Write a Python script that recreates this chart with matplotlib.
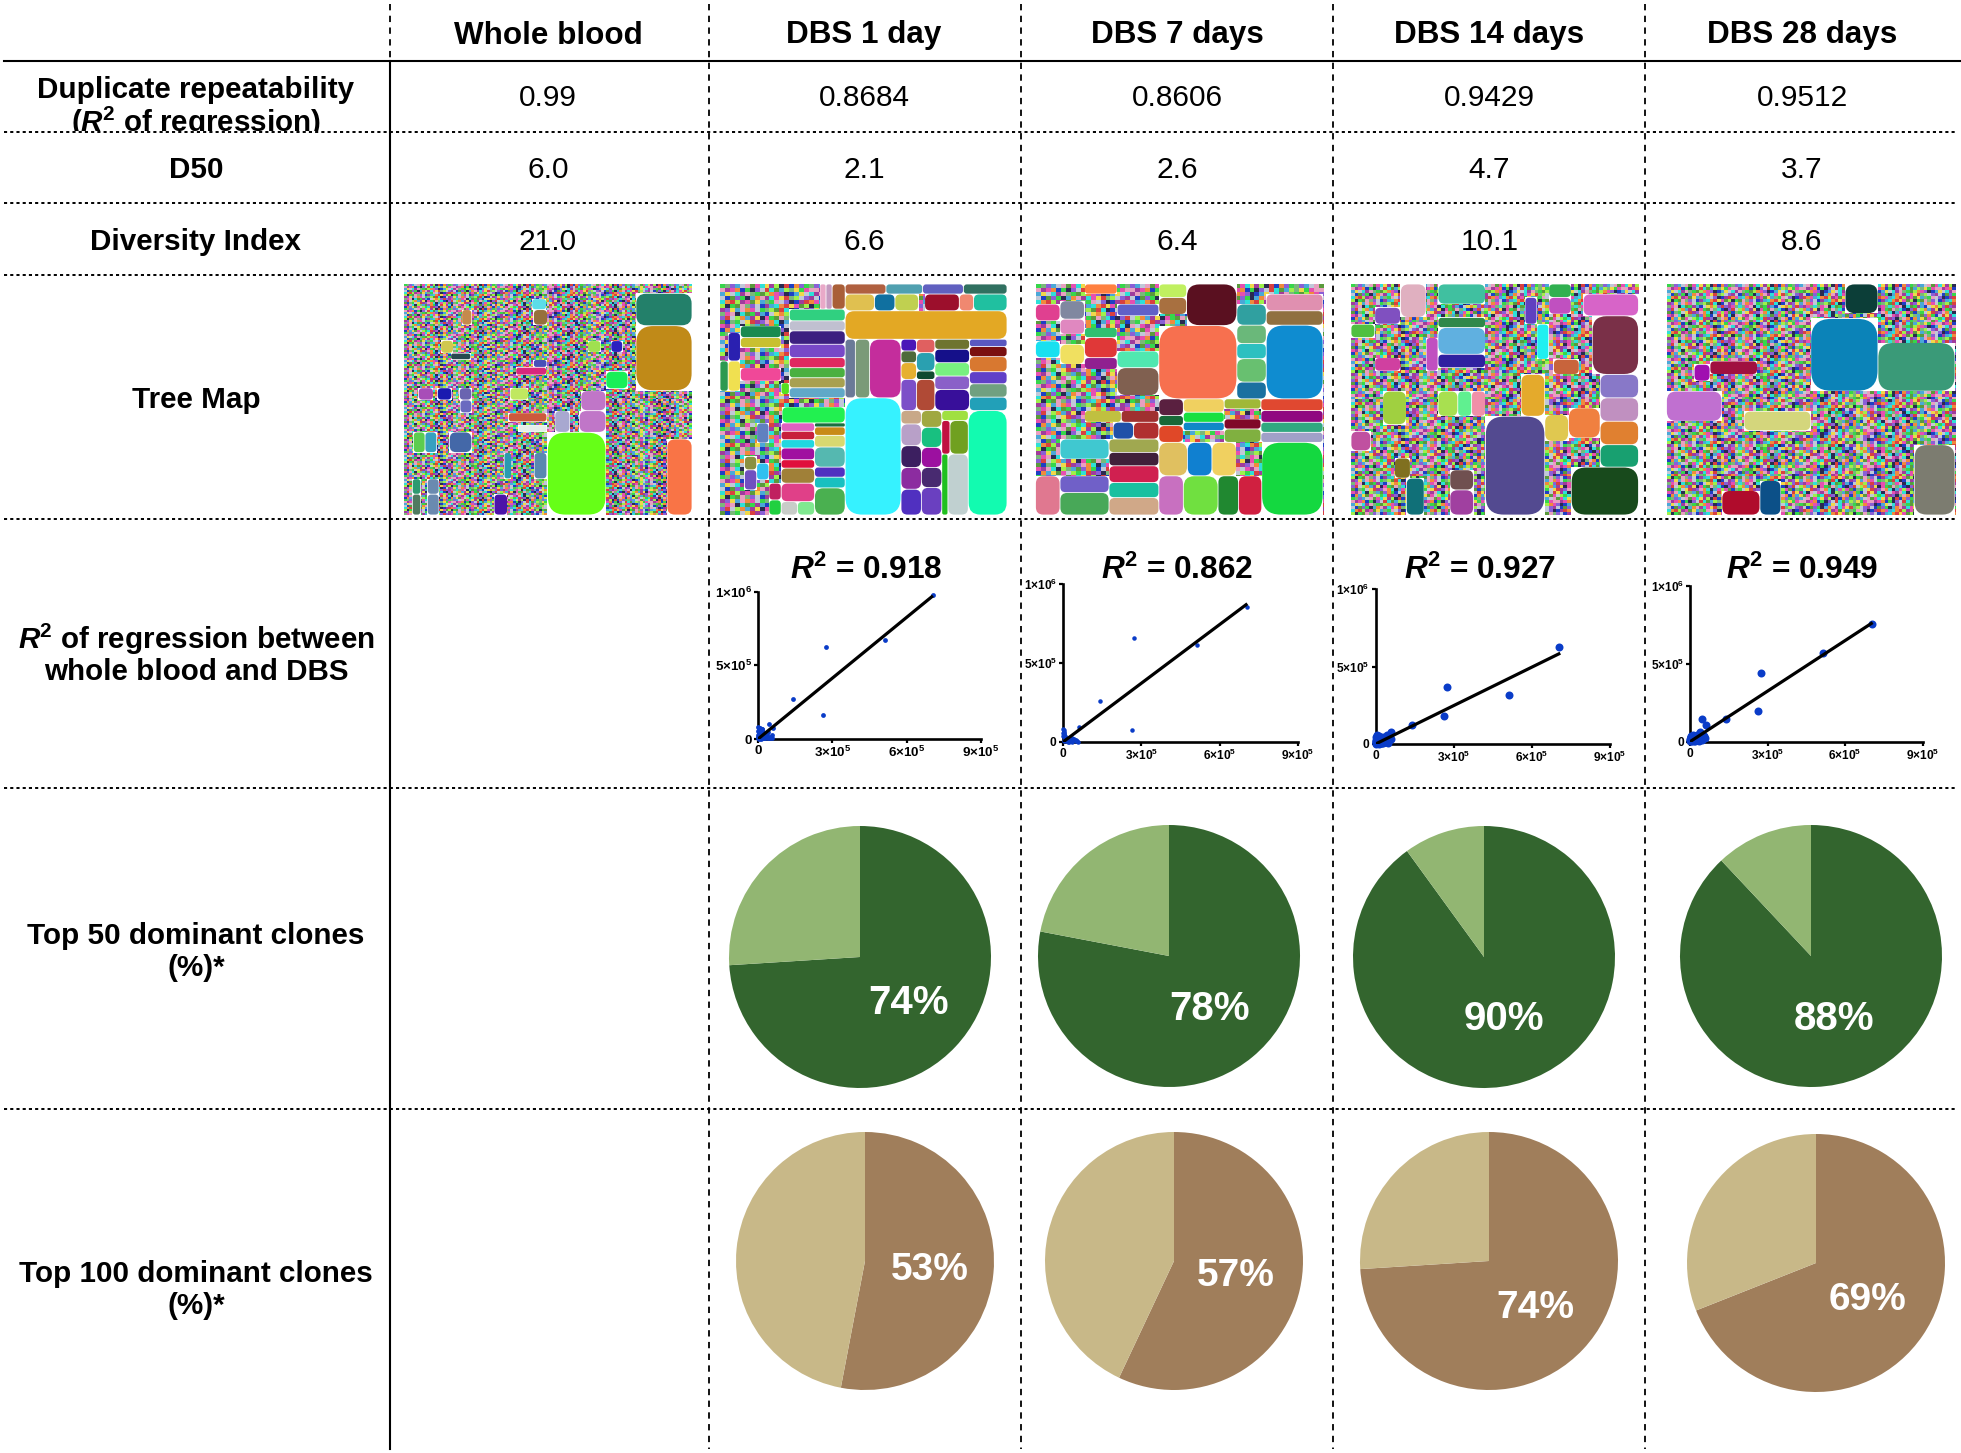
import numpy as np
import matplotlib
matplotlib.use('Agg')
import matplotlib.pyplot as plt
from matplotlib.patches import FancyBboxPatch, Rectangle

plt.rcParams['font.family'] = ['Liberation Sans', 'DejaVu Sans']
plt.rcParams['mathtext.fontset'] = 'custom'
plt.rcParams['mathtext.rm'] = 'Liberation Sans'
plt.rcParams['mathtext.it'] = 'Liberation Sans:italic'
plt.rcParams['mathtext.bf'] = 'Liberation Sans:bold'
plt.rcParams['mathtext.bfit'] = 'Liberation Sans:italic:bold'

W, H = 1961, 1453

# ── Table text ───────────────────────────────────────────────────────────────
columns = ['Whole blood', 'DBS 1 day', 'DBS 7 days', 'DBS 14 days', 'DBS 28 days']
repeatability = ['0.99', '0.8684', '0.8606', '0.9429', '0.9512']
d50 = ['6.0', '2.1', '2.6', '4.7', '3.7']
diversity = ['21.0', '6.6', '6.4', '10.1', '8.6']
r2_labels = ['0.918', '0.862', '0.927', '0.949']

# ── Pies ─────────────────────────────────────────────────────────────────────
top50 = [74, 78, 90, 88]
top100 = [53, 57, 74, 69]

# ── Scatter: whole blood count (x) against DBS count (y), one y list per panel ─
wb_x = [7.06e5, 5.14e5, 2.73e5, 2.64e5, 1.40e5, 0.45e5, 0.60e5, 0.55e5, 0.50e5,
        0.42e5, 0.38e5, 0.33e5, 0.28e5, 0.22e5, 0.17e5, 0.13e5, 0.10e5, 0.07e5,
        0.05e5, 0.03e5, 0.02e5, 0.01e5, 0.005e5,
        0.04e5, 0.08e5, 0.12e5, 0.16e5, 0.20e5, 0.25e5, 0.30e5, 0.35e5, 0.40e5,
        0.48e5, 0.58e5, 0.03e5, 0.07e5, 0.11e5, 0.15e5, 0.19e5, 0.24e5, 0.02e5,
        0.06e5, 0.09e5, 0.14e5, 0.01e5, 0.05e5]
d1_y = [9.77e5, 6.72e5, 6.27e5, 1.65e5, 2.71e5, 1.02e5, 0.75e5, 0.30e5, 0.15e5,
        0.45e5, 0.12e5, 0.28e5, 0.20e5, 0.38e5, 0.65e5, 0.25e5, 0.55e5, 0.42e5,
        0.72e5, 0.18e5, 0.80e5, 0.30e5, 0.10e5,
        0.60e5, 0.35e5, 0.48e5, 0.70e5, 0.15e5, 0.35e5, 0.10e5, 0.25e5, 0.08e5,
        0.05e5, 0.08e5, 0.40e5, 0.65e5, 0.20e5, 0.10e5, 0.50e5, 0.05e5, 0.15e5,
        0.05e5, 0.72e5, 0.03e5, 0.55e5, 0.02e5]
d7_y = [8.52e5, 6.16e5, 6.58e5, 0.74e5, 2.57e5, 0.12e5, 0.93e5, 0.06e5, 0.10e5,
        0.20e5, 0.15e5, 0.25e5, 0.12e5, 0.10e5, 0.08e5, 0.14e5, 0.22e5, 0.30e5,
        0.45e5, 0.60e5, 0.75e5, 0.85e5, 0.40e5,
        0.52e5, 0.25e5, 0.18e5, 0.05e5, 0.06e5, 0.04e5, 0.08e5, 0.03e5, 0.18e5,
        0.05e5, 0.02e5, 0.35e5, 0.38e5, 0.12e5, 0.20e5, 0.02e5, 0.03e5, 0.66e5,
        0.15e5, 0.30e5, 0.04e5, 0.55e5, 0.08e5]
d14_y = [6.24e5, 3.18e5, 3.67e5, 1.82e5, 1.22e5, 0.40e5, 0.75e5, 0.55e5, 0.28e5,
         0.60e5, 0.12e5, 0.30e5, 0.45e5, 0.18e5, 0.35e5, 0.50e5, 0.15e5, 0.40e5,
         0.55e5, 0.25e5, 0.42e5, 0.15e5, 0.08e5,
         0.30e5, 0.20e5, 0.10e5, 0.38e5, 0.08e5, 0.22e5, 0.05e5, 0.18e5, 0.10e5,
         0.08e5, 0.35e5, 0.10e5, 0.28e5, 0.30e5, 0.05e5, 0.12e5, 0.06e5, 0.03e5,
         0.12e5, 0.05e5, 0.02e5, 0.20e5, 0.05e5]
d28_y = [7.54e5, 5.67e5, 4.39e5, 1.95e5, 1.46e5, 1.43e5, 1.05e5, 0.35e5, 0.45e5,
         0.30e5, 0.65e5, 0.15e5, 0.40e5, 0.10e5, 0.28e5, 0.18e5, 0.42e5, 0.25e5,
         0.12e5, 0.35e5, 0.20e5, 0.08e5, 0.15e5,
         0.28e5, 0.12e5, 0.38e5, 0.05e5, 0.22e5, 0.08e5, 0.18e5, 0.05e5, 0.30e5,
         0.12e5, 0.22e5, 0.05e5, 0.10e5, 0.20e5, 0.32e5, 0.04e5, 0.15e5, 0.28e5,
         0.03e5, 0.12e5, 0.08e5, 0.02e5, 0.30e5]
scatter_y = [d1_y, d7_y, d14_y, d28_y]
fit_end_y = [9.72e5, 8.75e5, 5.86e5, 7.65e5]
fit_end_x = [7.06e5, 7.06e5, 7.09e5, 7.07e5]

# ── Tree maps: nested shares. None = the area of very small clones ───────────
# The thousands of tiniest clones can't be read one by one, so those areas are
# filled with this typed colour texture instead of real values.
small_palette = ['#37d64b', '#e64fb0', '#2ee0d8', '#8a5fd6', '#f0d84a', '#1e3fc4',
                 '#9ef04a', '#e8a0c0', '#d94040', '#4aa8d8', '#7ab87a', '#f08a3c',
                 '#c0c8d8', '#2a2a50', '#a03c9c', '#5a9a3c']
small_rows = ['0a39c7f124e6d85b3', '7e1b50d3c82f96a4017', '94c2e7a0f6b13d5',
              'c5f30d9b7e2148a6c3e', '2b86e1f49a07c3d5e8b19', '6d0f7a3c5e92b841f',
              'e3497b1c0a6f82d5c', 'a17d2f0e95c4b6383e1a2', '38c6b9e4d10f7a25d',
              'f5a0c48e37b2d9161', '1e72d6a9f3b05c84e2d7c', '5b94f1c6028e3da7b']


def h(*kids):
    return ('h', kids)


def v(*kids):
    return ('v', kids)


tree_wb = h(
    (430, v(
        (46, None),
        (34, h((383, None), (44, '#5cdde8'), (3, None))),
        (48, h((173, None), (30, '#c58a4c'), (185, None), (42, '#96703c'))),
        (48, None),
        (40, h((110, None), (38, '#d0c850'), (282, None))),
        (20, h((140, None), (60, '#27494f'), (230, None))),
        (24, h((388, None), (40, '#4850b8'), (2, None))),
        (24, h((335, None), (92, '#d8287c'), (3, None))),
        (40, None),
        (38, h((43, None), (45, '#a84db8'), (12, None), (43, '#1a1ab0'), (23, None),
               (37, '#6a64b0'), (115, None), (55, '#c0e860'), (57, None))),
        (40, h((168, None), (35, '#6a6ac0'), (227, None))),
        (28, h((313, None), (115, '#cc5a3c'), (2, None))),
        (10, None),
        (22, h((343, None), (85, '#e6eeea'), (2, None))),
        (64, h((28, None), (35, '#5ccc50'), (35, '#36a0c0'), (38, None), (67, '#4468a8'),
               (227, None))),
        (82, h((300, None), (22, '#2a9ab0'), (68, None), (38, '#5a88b0'), (2, None))),
        (48, h((25, None), (25, '#2e9a70'), (20, None), (35, '#6a8ab0'), (325, None))),
        (65, h((25, None), (25, '#507a60'), (20, None), (35, '#6a8ab0'), (165, None),
               (40, '#4c14a8'), (120, None))),
    )),
    (433, v(
        (320, h(
            (265, v((170, None), (35, h((120, None), (40, '#a0e050'), (30, None), (35, '#2c20c0'),
                                        (40, None))), (57, None),
                    (52, h((175, None), (66, '#18ef58'), (24, None))), (6, None))),
            (168, v((28, None), (97, '#23806a'), (195, '#c08a18'))),
        )),
        (373, h(
            (175, v((60, h((100, None), (75, '#c076c8'))),
                    (65, h((22, None), (45, '#a8a8d0'), (28, None), (80, '#c076c8'))),
                    (248, '#66ff17'))),
            (258, v((145, None), (228, h((183, None), (75, '#f97446'))))),
        )),
    )),
)

tree_d1 = h(
    (307, v(
        (340, v(
            (75, h((245, None), (15, '#e9a9c8'), (15, '#c49ac0'), (32, '#a95f38'))),
            (265, h(
                (20, v((155, None), (90, '#2d9a50'), (20, None))),
                (30, v((70, None), (85, '#2a20b0'), (90, '#f0e050'), (20, None))),
                (100, v((50, None), (35, '#1a8a50'), (30, '#c8c030'), (60, None), (40, '#f04898'),
                        (50, None))),
                (20, v((220, None), (35, '#55e020'), (10, None))),
                (137, v((35, '#30d080'), (30, '#c0c0d0'), (40, '#3c2080'), (40, '#7848c8'),
                        (30, '#e02860'), (30, '#4ab040'), (30, '#a8a050'), (30, '#60a8c8'))),
            )),
        )),
        (350, v(
            (27, None),
            (48, h((152, None), (155, '#22f050'))),
            (275, h(
                (60, None),
                (30, v((100, None), (40, '#8a9040'), (60, '#7050c0'), (75, None))),
                (30, v((60, '#6080c0'), (60, None), (50, '#30c0f0'), (105, None))),
                (30, v((180, None), (50, '#c02060'), (45, '#20d040'))),
                (82, v((25, '#e060c0'), (25, '#c8203c'), (25, '#20d8e0'), (35, '#a010a0'),
                       (25, '#e0103c'), (45, '#a08038'), (55, '#e04088'),
                       (40, h((40, '#c8ccc8'), (42, '#80e890'))))),
                (75, v((12, '#1a7040'), (25, '#c88a18'), (35, '#d8d870'), (60, '#55b8b0'),
                       (30, '#5030c0'), (32, '#18c0c0'), (81, '#4ab050'))),
            )),
        )),
    )),
    (397, v(
        (80, v((30, h((100, '#b06040'), (90, '#50a0b0'), (100, '#6060c0'), (107, '#307060'))),
               (50, h((72, '#e0c050'), (50, '#1070a0'), (58, '#c0d050'), (15, None),
                      (85, '#9c0f2c'), (35, '#f08870'), (82, '#20c0a0'))))),
        (85, '#e3a824'),
        (525, h(
            (137, v((175, h((25, '#6a7a98'), (35, '#7a9a78'), (77, '#c42d9c'))), (350, '#36f2ff'))),
            (260, v(
                (213, h(
                    (38, v((35, '#4a17b8'), (35, '#4e6a3a'), (50, '#e6b030'), (93, '#7c4fc8'))),
                    (45, v((40, '#e06060'), (55, '#2aa0b0'), (25, '#104a30'), (93, '#b04a36'))),
                    (85, v((30, '#6e7430'), (40, '#15108a'), (40, '#78f080'), (40, '#8a60c8'),
                           (63, '#380f9a'))),
                    (92, v((22, '#5a58c0'), (30, '#7a1010'), (45, '#d87830'), (36, '#6040c8'),
                           (40, '#70a080'), (40, '#22a0b8'))),
                )),
                (312, h(
                    (165, h(
                        (50, v((40, '#c8a888'), (65, '#b8a0c8'), (65, '#3c1f60'),
                               (65, '#8c2ca0'), (77, '#5030c0'))),
                        (50, v((50, '#a0a840'), (60, '#18c080'), (60, '#9c10a0'),
                               (60, '#482a70'), (82, '#6a40c0'))),
                        (65, v((30, '#a0e040'), (100, h((20, '#c01040'), (45, '#70a020'))),
                               (182, h((15, '#20c020'), (50, '#c0d0d0'))))),
                    )),
                    (95, '#12fbb0'),
                )),
            )),
        )),
    )),
)

tree_d7 = h(
    (302, v(
        (333, h(
            (60, v((60, None), (50, '#e04090'), (60, None), (50, '#18e0f0'), (113, None))),
            (60, v((50, None), (55, '#8088a0'), (45, '#e088c0'), (30, None), (60, '#f0e060'),
                   (93, None))),
            (80, v((30, '#ff8040'), (100, None), (30, '#30c070'), (60, '#e03838'), (35, '#902090'),
                   (78, None))),
            (102, v((60, None), (35, '#6060c8'), (105, None), (50, '#50e8b0'),
                    (83, '#806050'))),
        )),
        (357, v(
            (45, None),
            (35, h((120, None), (90, '#c0c040'), (92, '#a03030'))),
            (50, h((60, None), (130, None), (50, '#2050a8'), (62, '#b03030'))),
            (227, h(
                (60, v((110, None), (117, '#e07890'))),
                (120, v((60, '#40c8d0'), (50, None), (50, '#7060c8'), (67, '#48a858'))),
                (122, v((40, '#a0a850'), (40, '#40203a'), (50, '#d02050'), (45, '#18c0a0'),
                        (52, '#d0a888'))),
            )),
        )),
    )),
    (402, v(
        (343, h(
            (191, v((123, h((68, v((40, '#c0f060'), (50, '#a87040'), (33, None))),
                            (123, '#5a1020'))), (217, '#f7704f'))),
            (72, v((60, None), (63, '#30a0a0'), (55, '#6ab87a'), (45, '#2cc0c0'),
                   (70, '#68c070'), (50, '#1a70a0'))),
            (139, v((30, None), (50, '#e090b0'), (43, '#907040'), (220, '#0f8cd0'))),
        )),
        (347, v(
            (130, h(
                (60, v((50, '#5a2040'), (30, '#186838'), (50, '#e04828'))),
                (100, v((40, '#f0d060'), (30, '#18e040'), (25, '#1088c8'), (35, None))),
                (90, v((30, '#a0b838'), (30, None), (30, '#800828'), (40, '#80b040'))),
                (152, v((35, '#e04830'), (35, '#900880'), (30, '#30a880'), (30, '#a0a0c8'))),
            )),
            (217, h(
                (252, v(
                    (100, h((70, '#e0c060'), (60, '#1080d0'), (60, '#f0d060'), (62, None))),
                    (117, h((60, '#c870c0'), (85, '#70e040'), (50, '#208830'), (57, '#d02040'))),
                )),
                (150, '#14d840'),
            )),
        )),
    )),
)

tree_d14 = h(
    (340, v(
        (320, h(
            (60, v((120, None), (40, '#50c040'), (160, None))),
            (65, v((70, None), (50, '#8050c0'), (100, None), (40, '#d040a0'), (60, None))),
            (65, v((100, '#e0b0c0'), (220, None))),
            (30, v((160, None), (100, '#c050c0'), (60, None))),
            (120, v((60, '#40c0a0'), (40, None), (30, '#30884a'), (80, '#60b0e0'), (40, '#3020a0'),
                    (70, None))),
        )),
        (370, h(
            (50, v((120, None), (58, '#c050a0'), (192, None))),
            (170, v((100, h((30, None), (60, '#a0d040'), (80, None))), (100, None),
                    (60, h((60, None), (40, '#807020'), (70, None))),
                    (110, h((90, None), (45, '#107078'), (35, None))))),
            (120, v(
                (75, h((50, '#a8e050'), (35, '#60f090'), (35, '#f090a8'))),
                (160, None),
                (60, h((30, None), (60, '#705050'), (30, None))),
                (75, h((30, None), (60, '#a040a0'), (30, None))),
            )),
        )),
    )),
    (387, v(
        (270, h(
            (247, v((225, h((100, None), (30, v((40, None), (80, '#6040c0'), (105, None))),
                            (30, v((120, None), (105, '#20f0f0'))),
                            (57, v((40, '#30b050'), (50, '#c050c0'), (135, None))), (30, None))),
                    (45, h((172, None), (65, '#c8643c'), (10, None))))),
            (140, v((30, None), (65, '#d764c8'), (175, h((23, None), (117, '#7a3048'))))),
        )),
        (420, h(
            (150, v((125, h((90, None), (60, '#e4aa2c'))), (295, '#534a90'))),
            (237, v(
                (277, h(
                    (60, v((120, None), (80, '#e0c850'), (77, None))),
                    (80, v((100, None), (90, '#f08040'), (87, None))),
                    (97, v((70, '#8878c8'), (70, '#c090c0'), (70, '#e08030'), (67, '#18a070'))),
                )),
                (143, h((67, None), (170, '#184a1c'))),
            )),
        )),
    )),
)

tree_d28 = v(
    (320, h(
        (365, h((70, None), (40, v((240, None), (50, '#a010b0'), (30, None))),
                (120, v((230, None), (40, '#a01040'), (50, None))), (135, None))),
        (170, v((88, h((87, None), (83, '#0c3e38'))), (15, None), (217, '#0b83b8'))),
        (195, v((175, None), (145, '#3a9a78'))),
    )),
    (370, h(
        (140, v((90, '#c070d0'), (280, None))),
        (589, v(
            (160, h(
                (225, v((60, None), (58, h((55, None), (166, '#d4d67c'))), (42, None))),
                (365, None),
            )),
            (210, h(
                (486, v(
                    (107, None),
                    (103, h(
                        (96, v((30, None), (73, '#b00c2c'))),
                        (53, '#0c5088'),
                        (337, None),
                    )),
                )),
                (103, '#7c7c70'),
            )),
        )),
    )),
)

trees = [tree_wb, tree_d1, tree_d7, tree_d14, tree_d28]
small_cell = [(2.6, 2.0), (5.0, 4.0), (5.0, 4.0), (3.6, 3.0), (3.6, 3.0)]

# pixel boxes of the table
panel_boxes = [(404, 284, 692, 515), (720, 284, 1007, 515), (1035.5, 284, 1323, 515),
               (1351, 284, 1638.5, 515), (1666.5, 284, 1955, 515)]
axes_boxes = [(758, 591.7, 981, 739), (1063, 584, 1298, 742),
              (1375.6, 589, 1610, 744), (1690, 586, 1922.5, 741.7)]
marker_px = [4.8, 4.5, 8, 8]
top50_centers = [(860, 957), (1169, 956), (1484, 957), (1811, 956)]
top100_centers = [(865, 1261), (1174, 1261), (1489, 1261), (1816, 1263)]
top50_text = [(909, 1001), (1210, 1006), (1504, 1016), (1834, 1016)]
top100_text = [(930, 1267), (1236, 1274), (1535, 1305), (1867, 1297)]
col_x = [548, 864, 1177, 1489.5, 1802]
r2_x = [866, 1177.6, 1480, 1802.6]
TEXT_DY = 2.5


def add_px_axes(fig, x0, y0, x1, y1):
    return fig.add_axes([x0 / W, 1 - y1 / H, (x1 - x0) / W, (y1 - y0) / H])


def put(fig, x, y, s, size=21.3, weight='normal', color='black', **kw):
    return fig.text(x / W, 1 - (y + TEXT_DY) / H, s, fontsize=size, fontweight=weight, color=color,
                    ha='center', va='center', **kw)


def collect_clones(node, x0, y0, x1, y1, out):
    if node is None:
        return
    if isinstance(node, str):
        out.append((x0, y0, x1, y1, node))
        return
    kind, kids = node
    total = sum(k[0] for k in kids)
    pos = x0 if kind == 'h' else y0
    for share, child in kids:
        if kind == 'h':
            step = (x1 - x0) * share / total
            collect_clones(child, pos, y0, pos + step, y1, out)
        else:
            step = (y1 - y0) * share / total
            collect_clones(child, x0, pos, x1, pos + step, out)
        pos += step


def small_clone_image(w_px, h_px, cell):
    nx, ny = int(w_px / cell[0]) + 1, int(h_px / cell[1]) + 1
    colors = matplotlib.colors.to_rgba_array(small_palette)[:, :3]
    img = np.zeros((ny, nx, 3))
    for j in range(ny):
        row = small_rows[j % len(small_rows)]
        for i in range(nx):
            img[j, i] = colors[int(row[i % len(row)], 16)]
    return img


def draw_treemap(ax, tree, box, cell):
    x0, y0, x1, y1 = box
    ax.imshow(small_clone_image(x1 - x0, y1 - y0, cell), extent=(x0, x1, y1, y0),
              aspect='auto', interpolation='nearest', zorder=1)
    clones = []
    collect_clones(tree, x0, y0, x1, y1, clones)
    for cx0, cy0, cx1, cy1, color in clones:
        w, ht = cx1 - cx0, cy1 - cy0
        ax.add_patch(Rectangle((cx0, cy0), w, ht, fc='white', ec='none', zorder=2))
        rad = min(0.3 * min(w, ht), 20)
        ax.add_patch(FancyBboxPatch((cx0 + 0.4, cy0 + 0.4), w - 0.8, ht - 0.8,
                                    boxstyle=f'round,pad=0,rounding_size={rad}',
                                    fc=color, ec='none', zorder=3))


def draw_scatter(fig, box, ys, end_x, end_y, marker, label_size):
    ax = add_px_axes(fig, *box)
    ax.patch.set_alpha(0)
    ax.set_xlim(0, 9e5)
    ax.set_ylim(0, 1e6)
    ax.scatter(wb_x, ys, s=(marker * 0.72) ** 2, color='#0a3cc8', lw=0, zorder=3, clip_on=False)
    ax.plot([0, end_x], [0, end_y], color='black', lw=2.3, zorder=4, solid_capstyle='butt')
    for side in ('top', 'right'):
        ax.spines[side].set_visible(False)
    for side in ('left', 'bottom'):
        ax.spines[side].set_linewidth(1.9)
    ax.set_xticks([0, 3e5, 6e5, 9e5])
    ax.set_xticklabels(['0', r'3×10$^{\mathbf{5}}$', r'6×10$^{\mathbf{5}}$', r'9×10$^{\mathbf{5}}$'],
                       fontweight='bold', fontsize=label_size)
    ax.set_yticks([0, 5e5, 1e6])
    ax.set_yticklabels(['0', r'5×10$^{\mathbf{5}}$', r'1×10$^{\mathbf{6}}$'], fontweight='bold',
                       fontsize=label_size)
    ax.tick_params(length=3, width=1.6, pad=1.5)


def draw_pie(fig, center, radius, pct, colors):
    cx, cy = center
    ax = add_px_axes(fig, cx - radius, cy - radius, cx + radius, cy + radius)
    ax.pie([pct, 100 - pct], colors=colors, startangle=90, counterclock=False, radius=1,
           wedgeprops={'linewidth': 0})
    ax.set_xlim(-1, 1)
    ax.set_ylim(-1, 1)


fig = plt.figure(figsize=(W / 100, H / 100), dpi=100, facecolor='white')
base = fig.add_axes([0, 0, 1, 1])

# ── Tree maps ────────────────────────────────────────────────────────────────
for tree, box, cell in zip(trees, panel_boxes, small_cell):
    draw_treemap(base, tree, box, cell)
base.set_xlim(0, W)
base.set_ylim(H, 0)
base.axis('off')

# ── Rules ────────────────────────────────────────────────────────────────────
base.plot([4, 1961], [61, 61], color='black', lw=1.5, zorder=5)
for y in (132, 203, 275, 519, 788, 1109):
    base.plot([4, 1955], [y, y], color='black', lw=1.4, dashes=(1.6, 1.6), zorder=5)
base.plot([390, 390], [4, 61], color='black', lw=1.3, dashes=(3.5, 3), zorder=5)
base.plot([390, 390], [61, 1449], color='black', lw=1.5, zorder=5)
for x in (709, 1021, 1333, 1645):
    base.plot([x, x], [4, 1449], color='black', lw=1.3, dashes=(3.5, 3), zorder=5)

# ── Text ─────────────────────────────────────────────────────────────────────
for x, name in zip(col_x, columns):
    put(fig, x, 33, name, size=22.6, weight='bold')
for x, a, b, c in zip(col_x, repeatability, d50, diversity):
    put(fig, x, 96, a, size=21.5)
    put(fig, x, 168, b, size=21.5)
    put(fig, x, 240, c, size=21.5)

put(fig, 196, 87, 'Duplicate repeatability', weight='bold')
clipped = put(fig, 196, 120, r'($\mathbfit{R}^{\mathbf{2}}$ of regression)', weight='bold')
clipped.set_clip_path(Rectangle((0, H - 131), W, 131, transform=None))
clipped.set_clip_on(True)
put(fig, 196, 168, 'D50', weight='bold')
put(fig, 196, 240, 'Diversity Index', weight='bold')
put(fig, 196, 397, 'Tree Map', weight='bold')
put(fig, 196, 637, r'$\mathbfit{R}^{\mathbf{2}}$ of regression between', weight='bold')
put(fig, 196, 670, 'whole blood and DBS', weight='bold')
put(fig, 196, 933, 'Top 50 dominant clones', weight='bold')
put(fig, 196, 965, '(%)*', weight='bold')
put(fig, 196, 1271, 'Top 100 dominant clones', weight='bold')
put(fig, 196, 1303, '(%)*', weight='bold')

# ── Scatter panels ───────────────────────────────────────────────────────────
for i in range(4):
    put(fig, r2_x[i], 568, rf'$\mathbfit{{R}}^{{\mathbf{{2}}}}$ = {r2_labels[i]}', size=22.8,
        weight='bold')
    draw_scatter(fig, axes_boxes[i], scatter_y[i], fit_end_x[i], fit_end_y[i], marker_px[i],
                 9.6 if i == 0 else 8.6)

# ── Pies ─────────────────────────────────────────────────────────────────────
for i in range(4):
    draw_pie(fig, top50_centers[i], 131, top50[i], ['#33652e', '#92b672'])
    put(fig, *top50_text[i], f'{top50[i]}%', size=29, weight='bold', color='white')
    draw_pie(fig, top100_centers[i], 129, top100[i], ['#a07e5b', '#c8b888'])
    put(fig, *top100_text[i], f'{top100[i]}%', size=28, weight='bold', color='white')

fig.savefig('out.png', dpi=100)
